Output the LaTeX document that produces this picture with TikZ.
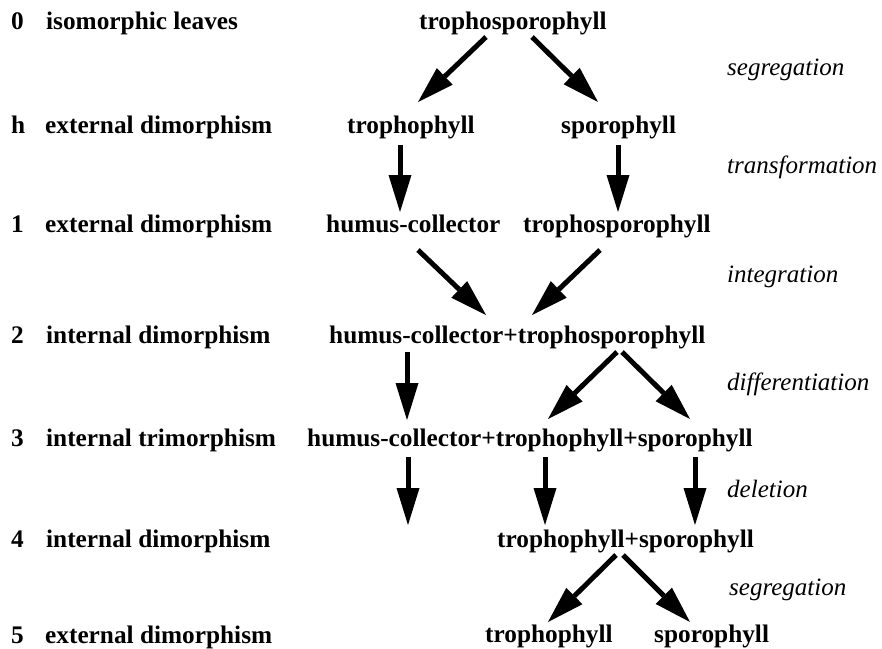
\documentclass[tikz,border=0pt]{standalone}
\usepackage{fontspec}
\setmainfont{Liberation Serif}
\usetikzlibrary{arrows.meta}
\begin{document}
\begin{tikzpicture}[x=1pt,y=-1pt,
  lab/.style={anchor=base west, inner sep=0pt, font=\fontsize{25.3}{30}\selectfont\bfseries},
  proc/.style={anchor=base west, inner sep=0pt, font=\fontsize{25}{30}\selectfont\itshape},
  arr/.style={line width=5pt, -{Triangle[length=37pt,width=23pt,line width=0pt]}}]
\fill[white] (0,0) rectangle (882,648);
\useasboundingbox (0,0) rectangle (882,648);
% left column
\node[lab] (n0) at (11,29) {0};
\node[lab] (l0) at (46,29) {isomorphic leaves};
\node[lab] (nh) at (11,133) {h};
\node[lab] (lh) at (45,133) {external dimorphism};
\node[lab] (n1) at (11,232) {1};
\node[lab] (l1) at (45,232) {external dimorphism};
\node[lab] (n2) at (11,343) {2};
\node[lab] (l2) at (46,343) {internal dimorphism};
\node[lab] (n3) at (11,446) {3};
\node[lab] (l3) at (46,446) {internal trimorphism};
\node[lab] (n4) at (11,547) {4};
\node[lab] (l4) at (46,547) {internal dimorphism};
\node[lab] (n5) at (11,643) {5};
\node[lab] (l5) at (45,643) {external dimorphism};
% centre
\node[lab] (r0) at (419,29) {trophosporophyll};
\node[lab] (rha) at (347,133) {trophophyll};
\node[lab] (rhb) at (561,133) {sporophyll};
\node[lab] (r1a) at (326,232) {humus-collector};
\node[lab] (r1b) at (523,232) {trophosporophyll};
\node[lab] (r2) at (329,343) {humus-collector+trophosporophyll};
\node[lab] (r3) at (307,446) {humus-collector+trophophyll+sporophyll};
\node[lab] (r4) at (497,547) {trophophyll+sporophyll};
\node[lab] (r5a) at (485,642) {trophophyll};
\node[lab] (r5b) at (654,642) {sporophyll};
% processes
\node[proc] (p1) at (727,75) {segregation};
\node[proc] (p2) at (727,173) {transformation};
\node[proc] (p3) at (727,282) {integration};
\node[proc] (p4) at (727,390) {differentiation};
\node[proc] (p5) at (727,497) {deletion};
\node[proc] (p6) at (729,595) {segregation};
% arrow end points
\coordinate (a1s) at (486,37);  \coordinate (a1e) at (418,102);
\coordinate (a2s) at (532,37);  \coordinate (a2e) at (598,102);
\coordinate (a3s) at (400,145); \coordinate (a3e) at (400,212);
\coordinate (a4s) at (618,145); \coordinate (a4e) at (618,212);
\coordinate (a5s) at (418,250); \coordinate (a5e) at (486,315);
\coordinate (a6s) at (600,250); \coordinate (a6e) at (532,315);
\coordinate (a7s) at (407,352); \coordinate (a7e) at (407,420);
\coordinate (a8s) at (617,352); \coordinate (a8e) at (548,419);
\coordinate (a9s) at (622,352); \coordinate (a9e) at (690,419);
\coordinate (a10s) at (408,457); \coordinate (a10e) at (408,525);
\coordinate (a11s) at (545,457); \coordinate (a11e) at (545,525);
\coordinate (a12s) at (695,457); \coordinate (a12e) at (695,525);
\coordinate (a13s) at (616,555); \coordinate (a13e) at (548,622);
\coordinate (a14s) at (623,555); \coordinate (a14e) at (690,622);
\foreach \i in {1,...,14} {\draw[arr] (a\i s) -- (a\i e);}
\end{tikzpicture}
\end{document}
